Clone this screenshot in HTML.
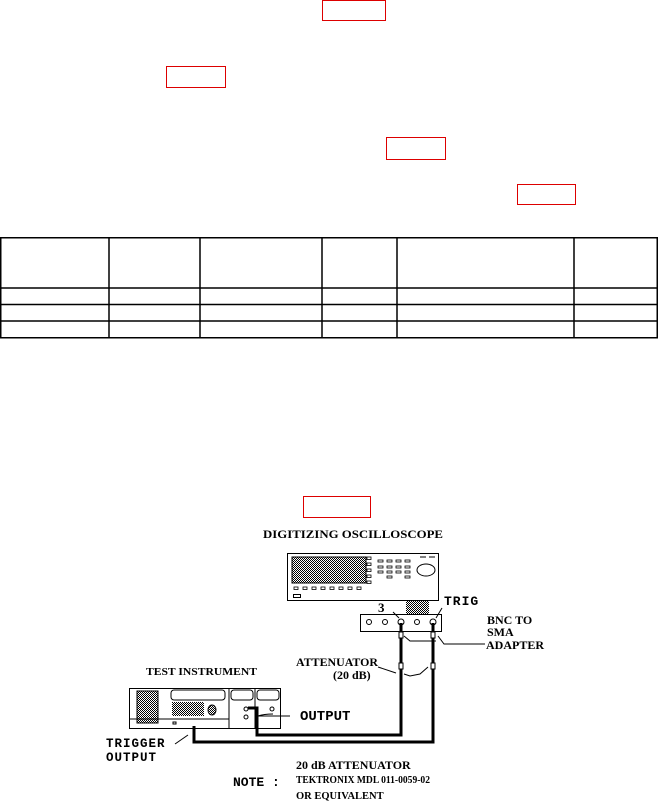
<!DOCTYPE html>
<html><head><style>
html,body{margin:0;padding:0;background:#fff}
svg{display:block}
text{font-family:"Liberation Serif",serif;font-weight:bold;fill:#000}
.m{font-family:"Liberation Mono",monospace}
</style></head><body>
<svg width="658" height="801" viewBox="0 0 658 801" xmlns="http://www.w3.org/2000/svg">
<defs>
<pattern id="h" width="2" height="2" patternUnits="userSpaceOnUse"><rect width="1" height="1" fill="#000"/><rect x="1" y="1" width="1" height="1" fill="#000"/></pattern>
</defs>
<g fill="none" stroke="#d00" stroke-width="1">
<rect x="322.5" y="0.5" width="63" height="20"/>
<rect x="166.5" y="66.5" width="59" height="21"/>
<rect x="386.5" y="137.5" width="59" height="22"/>
<rect x="517.5" y="184.5" width="58" height="20"/>
<rect x="303.5" y="496.5" width="67" height="21"/>
</g>
<g stroke="#000" stroke-width="1.5" fill="none">
<rect x="0.75" y="237.75" width="656.5" height="100"/>
<line x1="0" y1="288" x2="658" y2="288"/>
<line x1="0" y1="304.5" x2="658" y2="304.5"/>
<line x1="0" y1="321" x2="658" y2="321"/>
<line x1="109" y1="237" x2="109" y2="338"/>
<line x1="200" y1="237" x2="200" y2="338"/>
<line x1="322" y1="237" x2="322" y2="338"/>
<line x1="397" y1="237" x2="397" y2="338"/>
<line x1="574" y1="237" x2="574" y2="338"/>
</g>
<text x="263" y="538" font-size="12" textLength="180" lengthAdjust="spacingAndGlyphs">DIGITIZING OSCILLOSCOPE</text>
<g stroke="#000" stroke-width="1" fill="none">
<rect x="287.5" y="553.5" width="151" height="47"/>
<rect x="292" y="557" width="74" height="26" fill="url(#h)"/>
<rect x="293.5" y="594.5" width="7" height="3"/>
<ellipse cx="426" cy="570" rx="9" ry="6"/>
<line x1="420" y1="557" x2="426" y2="557"/><line x1="429" y1="557" x2="435" y2="557"/>
</g>
<g fill="none" stroke="#000" stroke-width="0.8">
<rect x="294" y="587" width="4" height="2.5"/><rect x="303" y="587" width="4" height="2.5"/><rect x="312" y="587" width="4" height="2.5"/><rect x="321" y="587" width="4" height="2.5"/><rect x="330" y="587" width="4" height="2.5"/><rect x="339" y="587" width="4" height="2.5"/><rect x="348" y="587" width="4" height="2.5"/><rect x="357" y="587" width="4" height="2.5"/>
<rect x="367" y="557" width="4" height="2.5"/><rect x="367" y="563" width="4" height="2.5"/><rect x="367" y="569" width="4" height="2.5"/><rect x="367" y="575" width="4" height="2.5"/><rect x="367" y="581" width="4" height="2.5"/>
<rect x="378" y="560" width="5" height="2"/><rect x="387" y="560" width="5" height="2"/><rect x="396" y="560" width="5" height="2"/><rect x="405" y="560" width="5" height="2"/>
<rect x="378" y="566" width="5" height="2"/><rect x="387" y="566" width="5" height="2"/><rect x="396" y="566" width="5" height="2"/><rect x="405" y="566" width="5" height="2"/>
<rect x="378" y="571" width="5" height="2"/><rect x="387" y="571" width="5" height="2"/><rect x="396" y="571" width="5" height="2"/><rect x="405" y="571" width="5" height="2"/>
<rect x="387" y="576" width="5" height="2"/><rect x="405" y="576" width="5" height="2"/>
</g>
<rect x="406" y="601" width="23" height="14" fill="url(#h)"/>
<rect x="360.5" y="614.5" width="81" height="17" fill="#fff" stroke="#000"/>
<g fill="none" stroke="#000" stroke-width="1">
<circle cx="369" cy="622" r="2.5"/><circle cx="385" cy="622" r="2.5"/><circle cx="401" cy="622" r="3"/><circle cx="417" cy="622" r="2.5"/><circle cx="433" cy="622" r="3"/>
<line x1="393" y1="612" x2="399" y2="618"/><line x1="442" y1="608" x2="436" y2="618"/>
<path d="M404 636 L410 641 L436 641"/><path d="M438 636 L444 644 L485 644"/>
<path d="M404 674 L410 676 L420 674 L428 667"/>
<path d="M378 667 L396 673"/>
<path d="M273 714 Q264 714 258 716 L290 716"/>
<line x1="175" y1="744" x2="188" y2="735"/>
</g>
<g stroke="#000" stroke-width="3" fill="none">
<path d="M401 623 V735 H257 V708 H248"/>
<path d="M433 623 V742 H194 V726"/>
</g>
<g fill="#fff" stroke="#000" stroke-width="1">
<rect x="399" y="632" width="4" height="6"/><rect x="431" y="632" width="4" height="6"/>
<rect x="399" y="663" width="4" height="6"/><rect x="431" y="663" width="4" height="6"/>
</g>
<text x="444" y="605" font-size="13" class="m" letter-spacing="1">TRIG</text>
<text x="378" y="612" font-size="13">3</text>
<text x="487" y="624" font-size="12">BNC TO</text>
<text x="487" y="636" font-size="12">SMA</text>
<text x="486" y="649" font-size="12">ADAPTER</text>
<text x="296" y="666" font-size="12" textLength="82" lengthAdjust="spacingAndGlyphs">ATTENUATOR</text>
<text x="333" y="679" font-size="12">(20 dB)</text>
<text x="146" y="675" font-size="11" textLength="111" lengthAdjust="spacingAndGlyphs">TEST INSTRUMENT</text>
<g stroke="#000" stroke-width="1" fill="none">
<rect x="129.5" y="688.5" width="151" height="40"/>
<line x1="129" y1="719" x2="229" y2="719"/>
<line x1="229" y1="688" x2="229" y2="729"/>
<line x1="255" y1="688" x2="255" y2="729"/>
<rect x="137" y="691" width="21" height="32" fill="url(#h)"/>
<rect x="171" y="690" width="54" height="10" rx="3"/>
<rect x="231" y="690" width="22" height="10" rx="3"/>
<rect x="257" y="690" width="22" height="10" rx="3"/>
<ellipse cx="212" cy="710" rx="4" ry="5" fill="url(#h)"/>
<circle cx="246" cy="709" r="2"/><circle cx="246" cy="717" r="2"/><circle cx="272" cy="709" r="2"/>
<rect x="173" y="722" width="3" height="2"/>
</g>
<rect x="172" y="702" width="32" height="14" fill="url(#h)"/>
<text x="300" y="720" font-size="14" class="m">OUTPUT</text>
<text x="106" y="747" font-size="12.5" class="m" letter-spacing="1">TRIGGER</text>
<text x="106" y="761" font-size="12.5" class="m" letter-spacing="1">OUTPUT</text>
<text x="296" y="769" font-size="12">20 dB ATTENUATOR</text>
<text x="233" y="786" font-size="13" class="m">NOTE :</text>
<text x="296" y="783" font-size="10.5" textLength="134" lengthAdjust="spacingAndGlyphs">TEKTRONIX MDL 011-0059-02</text>
<text x="296" y="799" font-size="10.5">OR EQUIVALENT</text>
</svg>
</body></html>
